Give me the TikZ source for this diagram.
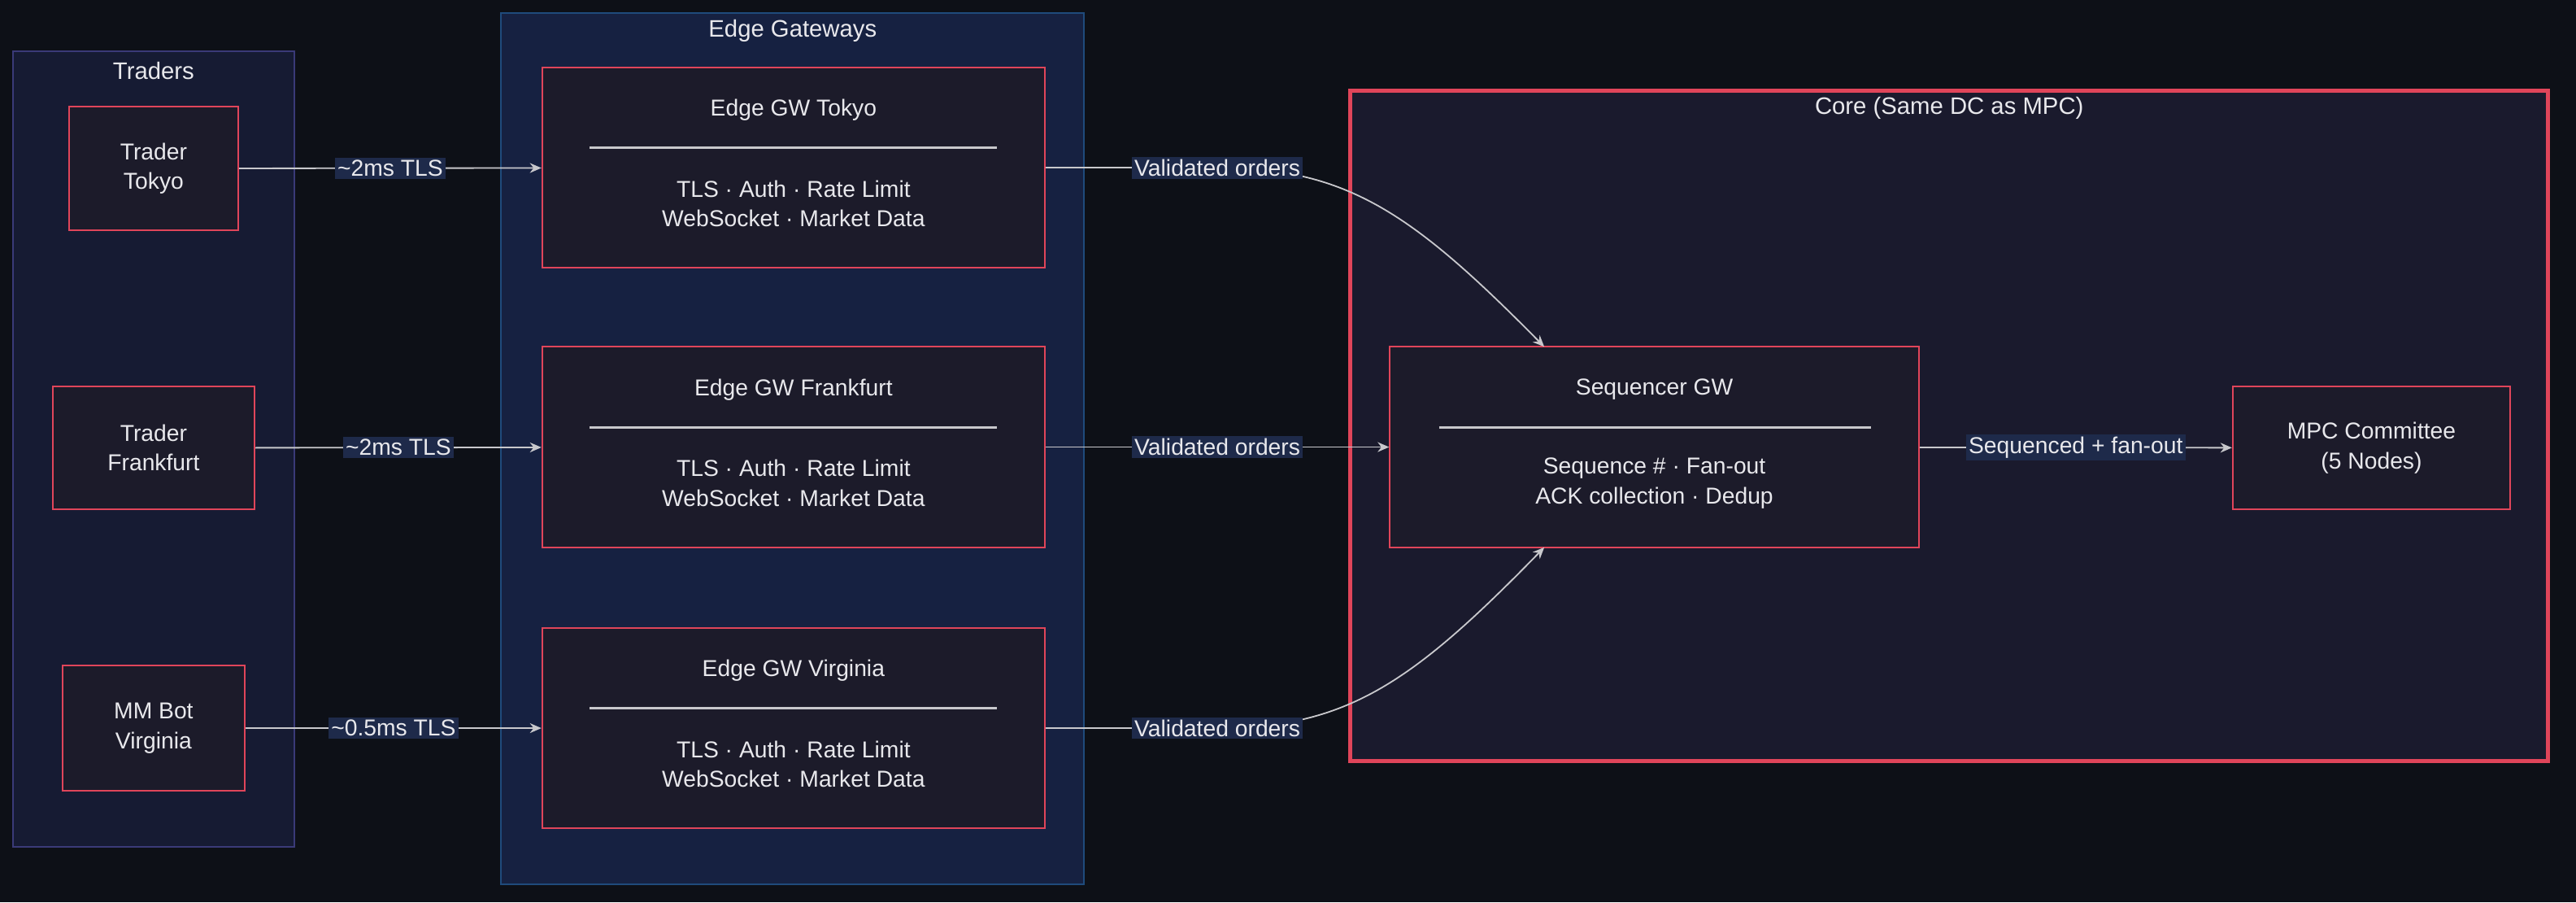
\documentclass[tikz,border=0pt]{standalone}
\usepackage{fontspec}
\setmainfont{Liberation Sans}
\usetikzlibrary{arrows.meta}
\definecolor{bg}{HTML}{0D1017}
\definecolor{trfill}{HTML}{161B33}
\definecolor{trborder}{HTML}{3A3A78}
\definecolor{egfill}{HTML}{162141}
\definecolor{egborder}{HTML}{1F4B7C}
\definecolor{corefill}{HTML}{1A1A2D}
\definecolor{red1}{HTML}{E0455A}
\definecolor{nfill}{HTML}{1C1B2A}
\definecolor{txt}{HTML}{E8E8EC}
\definecolor{lbl}{HTML}{1E2A4A}
\definecolor{ln}{HTML}{C8C8CC}
\begin{document}
\begin{tikzpicture}[x=1pt,y=-1pt,font=\fontsize{14}{18}\selectfont,
 box/.style={draw=red1,fill=nfill,line width=0.9pt,text=txt,align=center,inner sep=0pt},
 ttl/.style={text=txt,font=\fontsize{14.5}{18}\selectfont},
 conn/.style={draw=ln,line width=0.9pt,-{Stealth[length=7pt,width=6pt]}},
 lab/.style={fill=lbl,text=txt,inner sep=1.5pt}]
\fill[bg] (0,0) rectangle (1568,549);
\useasboundingbox (0,0) rectangle (1568,549);
% clusters
\draw[fill=trfill,draw=trborder,line width=1pt] (8,31) rectangle (179,515);
\node[ttl] (ttr) at (93.5,43) {Traders};
\draw[fill=egfill,draw=egborder,line width=1pt] (305,8) rectangle (660,538);
\node[ttl] (teg) at (482.5,19) {Edge Gateways};
\draw[fill=corefill,draw=red1,line width=2.5pt] (822,55) rectangle (1551,463);
\node[ttl] (tco) at (1186.5,66) {Core (Same DC as MPC)};
% traders
\node[box,minimum width=103pt,minimum height=75pt] (tt) at (93.5,102.5) {Trader\\Tokyo};
\node[box,minimum width=123pt,minimum height=75pt] (tf) at (93.5,272.5) {Trader\\Frankfurt};
\node[box,minimum width=111pt,minimum height=76pt] (tv) at (93.5,443) {MM Bot\\Virginia};
% edge gateways
\foreach \n/\c/\t in {et/102/Tokyo,ef/272/Frankfurt,ev/443/Virginia}{
 \node[box,minimum width=306pt,minimum height=122pt] (\n) at (483,\c) {};
 \node[text=txt] (\n t) at (483,\c-35) {Edge GW \t};
 \draw[ln,line width=1.5pt] (359,\c-12) -- (607,\c-12);
 \node[text=txt,align=center] (\n b) at (483,\c+22) {TLS · Auth · Rate Limit\\WebSocket · Market Data};
}
% sequencer
\node[box,minimum width=322pt,minimum height=122pt] (sq) at (1007,272) {};
\node[text=txt] (sqt) at (1007,237) {Sequencer GW};
\draw[ln,line width=1.5pt] (876,260) -- (1139,260);
\node[text=txt,align=center] (sqb) at (1007,294) {Sequence \# · Fan-out\\ACK collection · Dedup};
\node[box,minimum width=169pt,minimum height=75pt] (mpc) at (1443.5,272.5) {MPC Committee\\(5 Nodes)};
% connectors
\draw[conn] (tt) -- node[lab] {\textasciitilde 2ms TLS} (et);
\draw[conn] (tf) -- node[lab] {\textasciitilde 2ms TLS} (ef);
\draw[conn] (tv) -- node[lab] {\textasciitilde 0.5ms TLS} (ev);
\coordinate (st) at (940,211);
\coordinate (sb) at (940,333);
\draw[conn] (et.east) -- (741,102) .. controls (820,102) and (860,130) .. (st);
\node[lab] (l1) at (741,102) {Validated orders};
\draw[conn] (ev.east) -- (741,443) .. controls (820,443) and (860,415) .. (sb);
\node[lab] (l3) at (741,443) {Validated orders};
\draw[conn] (ef) -- node[lab] {Validated orders} (sq);
\draw[conn] (sq) -- node[lab] {Sequenced + fan-out} (mpc);
\end{tikzpicture}
\end{document}
